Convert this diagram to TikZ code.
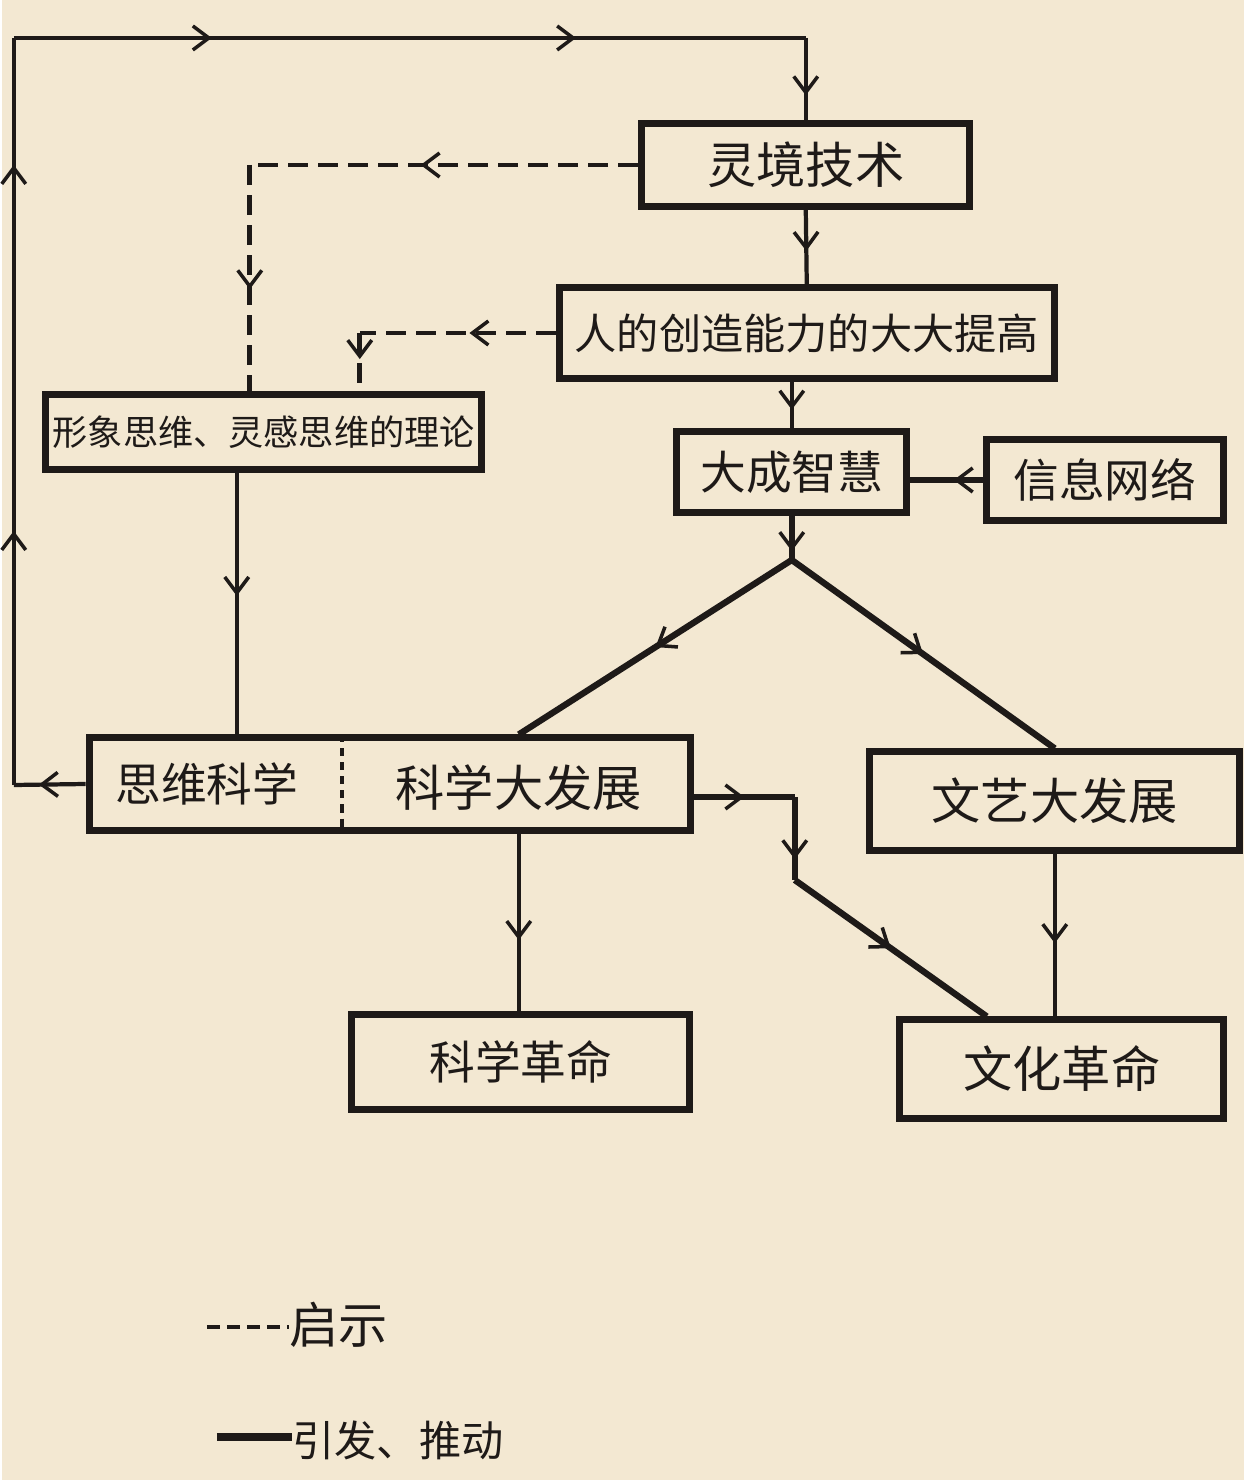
\documentclass[tikz,border=0pt]{standalone}
\usepackage{fontspec}
\newfontfamily\cjk{Noto Sans CJK SC}
\definecolor{paper}{RGB}{243,232,210}
\definecolor{ink}{RGB}{30,26,24}
\usetikzlibrary{arrows.meta,decorations.markings,calc}
\newcommand{\fs}[1]{\cjk\fontsize{#1}{#1}\selectfont}

\begin{document}
\begin{tikzpicture}[x=0.01cm, y=-0.01cm,
    box/.style={draw=ink, line width=2pt, inner sep=0pt, text=ink},
    lbl/.style={inner sep=0pt, text=ink},
    link/.style={draw=ink, line width=1.2pt},
    heavy/.style={draw=ink, line width=1.8pt},
    hint/.style={draw=ink, line width=1.3pt, dash pattern=on 0.2cm off 0.1cm},
    tip/.style={postaction={decorate, decoration={markings,
        mark=at position #1 with {\arrow{Straight Barb[length=1.6mm,width=2.4mm,line width=1pt]}}}}}
  ]
  % paper
  \fill[paper] (0,0) rectangle (1242,1480);

  % boxes
  \node[box, minimum width=3.28cm, minimum height=0.83cm, font=\fs{14}] (ljjs) at (804,165) {灵境技术};
  \node[box, minimum width=4.95cm, minimum height=0.90cm, font=\fs{12}] (cznl) at (805,333) {人的创造能力的大大提高};
  \node[box, minimum width=4.36cm, minimum height=0.75cm, font=\fs{10}] (xxsw) at (262,432) {形象思维、灵感思维的理论};
  \node[box, minimum width=2.30cm, minimum height=0.80cm, font=\fs{13}] (dczh) at (790,472) {大成智慧};
  \node[box, minimum width=2.37cm, minimum height=0.80cm, font=\fs{13}] (xxwl) at (1103,480) {信息网络};
  \node[box, minimum width=6.01cm, minimum height=0.92cm] (kxbox) at (388,784) {};
  \node[lbl, font=\fs{13}] (swkx) at (205,784) {思维科学};
  \node[lbl, font=\fs{14}] (kxfz) at (517,788) {科学大发展};
  \node[box, minimum width=3.70cm, minimum height=0.98cm, font=\fs{14}] (wyfz) at (1053,801) {文艺大发展};
  \node[box, minimum width=3.38cm, minimum height=0.95cm, font=\fs{13}] (kxgm) at (519,1062) {科学革命};
  \node[box, minimum width=3.24cm, minimum height=0.98cm, font=\fs{14}] (whgm) at (1060,1069) {文化革命};

  % bends
  \coordinate (div) at (340,784);
  \coordinate (lpA) at (12,785);
  \coordinate (lpB) at (12,38);
  \coordinate (lpC) at (804,38);
  \coordinate (split) at (790,560);
  \coordinate (dA) at (248,165);
  \coordinate (dB) at (358,333);
  \coordinate (vA) at (235,600);
  \coordinate (rA) at (793,797);
  \coordinate (rB) at (793,880);
  \coordinate (rC) at (985,1020);

  \draw[draw=ink, line width=1pt, dash pattern=on 0.08cm off 0.06cm] (div |- kxbox.north) -- (div |- kxbox.south);

  % feedback loop
  \draw[link, tip=0.65] (kxbox.west) -- (lpA);
  \draw[link, tip=0.34, tip=0.83] (lpA) -- (lpB);
  \draw[link, tip=0.25, tip=0.71] (lpB) -- (lpC);
  \draw[link, tip=0.7] (lpC) -- (ljjs.north);

  % main chain
  \draw[link, tip=0.55] (ljjs.south) -- (cznl.north);
  \draw[link, tip=0.6] (cznl.south -| dczh) -- (dczh.north);
  \draw[heavy, tip=0.4] (xxwl.west) -- (xxwl.west -| dczh.east);
  \draw[heavy, tip=0.8] (dczh.south) -- (split);
  \draw[heavy, tip=0.5] (split) -- (kxfz |- kxbox.north);
  \draw[heavy, tip=0.5] (split) -- (wyfz.north);

  % hints
  \draw[hint, tip=0.56] (ljjs.west) -- (dA);
  \draw[hint, tip=0.55] (dA) -- (dA |- xxsw.north);
  \draw[hint, tip=0.44] (cznl.west) -- (dB);
  \draw[hint, tip=0.45] (dB) -- (dB |- xxsw.north);

  \draw[link, tip=0.47] (xxsw.south -| vA) -- (kxbox.north -| vA);
  \draw[link, tip=0.6] (kxfz |- kxbox.south) -- (kxfz |- kxgm.north);
  \draw[link, tip=0.55] (wyfz.south) -- (wyfz.south |- whgm.north);

  % to cultural revolution
  \draw[heavy, tip=0.5] (rA -| kxbox.east) -- (rA);
  \draw[heavy, tip=0.75] (rA) -- (rB);
  \draw[heavy, tip=0.5] (rB) -- (rC |- whgm.north);

  % legend
  \node[lbl, anchor=west, font=\fs{14}] (lgqs) at (287,1325) {启示};
  \node[lbl, anchor=west, font=\fs{12}] (lgyf) at (290,1440) {引发、推动};
  \coordinate (lgA) at (205,1327);
  \coordinate (lgB) at (215,1437);
  \draw[draw=ink, line width=1.2pt, dash pattern=on 0.13cm off 0.07cm] (lgA) -- (lgA -| lgqs.west);
  \draw[draw=ink, line width=2.2pt] (lgB) -- (lgB -| lgyf.west);
\end{tikzpicture}
\end{document}
